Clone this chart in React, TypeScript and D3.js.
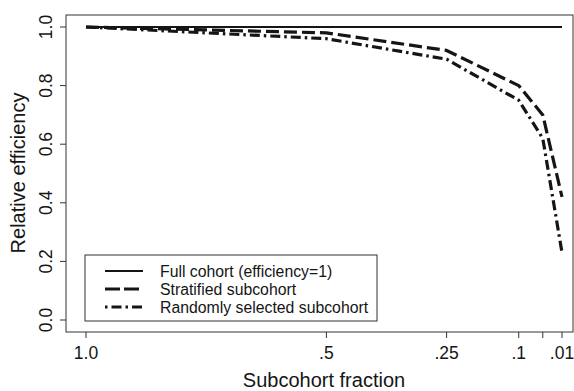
import React from "react";
import * as d3 from "d3";

const fractions = [1.0, 0.5, 0.25, 0.1, 0.05, 0.01];
const fullCohort = [1, 1, 1, 1, 1, 1];
const stratified = [1.0, 0.98, 0.92, 0.8, 0.7, 0.42];
const randomSel = [1.0, 0.96, 0.89, 0.75, 0.62, 0.23];
const xTicks = [1.0, 0.5, 0.25, 0.1, 0.05, 0.01];
const xTickLabels = ["1.0", ".5", ".25", ".1", "", ".01"];
const yTicks = [0, 0.2, 0.4, 0.6, 0.8, 1.0];
const legendLabels = ["Full cohort (efficiency=1)", "Stratified subcohort", "Randomly selected subcohort"];

const W = 574, H = 391;
const font = "'Liberation Sans', Arial, Helvetica, sans-serif";
const ink = "#151515";

export default function App() {
  const x = d3.scaleLinear().domain([1, 0.01]).range([86, 562]);
  const y = d3.scaleLinear().domain([0, 1]).range([320, 27]);
  const frame = { l: 66, t: 15, r: 573, b: 332 };
  const line = d3.line<number>().x((_, i) => x(fractions[i])).y((d) => y(d));
  const series = [
    { vals: fullCohort, dash: undefined as string | undefined, w: 2 },
    { vals: stratified, dash: "13 5", w: 3.2 },
    { vals: randomSel, dash: "10 4 2.5 4", w: 3.2 },
  ];
  const legend = { x: 85, y: 255, w: 292, h: 66 };
  return (
    <svg width={W} height={H} style={{ position: "absolute", left: 0, top: 0, background: "#fff" }}>
      <rect x={0} y={0} width={W} height={H} fill="#fff" />
      <rect x={frame.l} y={frame.t} width={frame.r - frame.l} height={frame.b - frame.t} fill="none" stroke="#333" strokeWidth={1} />
      {yTicks.map((t) => (
        <g key={"y" + t}>
          <line x1={frame.l - 6} x2={frame.l} y1={y(t)} y2={y(t)} stroke="#333" strokeWidth={1} />
          <text
            transform={`translate(${frame.l - 14},${y(t)}) rotate(-90)`}
            textAnchor="middle"
            fontFamily={font}
            fontSize={17.5}
            fill={ink}
          >
            {d3.format(".1f")(t)}
          </text>
        </g>
      ))}
      {xTicks.map((t, i) => (
        <g key={"x" + t}>
          <line x1={x(t)} x2={x(t)} y1={frame.b} y2={frame.b + 6} stroke="#333" strokeWidth={1} />
          <text x={x(t)} y={359} textAnchor="middle" fontFamily={font} fontSize={17.5} fill={ink}>
            {xTickLabels[i]}
          </text>
        </g>
      ))}
      <text x={324} y={387} textAnchor="middle" fontFamily={font} fontSize={20} fill={ink}>
        Subcohort fraction
      </text>
      <text transform={`translate(25,173) rotate(-90)`} textAnchor="middle" fontFamily={font} fontSize={20} fill={ink}>
        Relative efficiency
      </text>
      {series.map((s, i) => (
        <path key={i} d={line(s.vals) || ""} fill="none" stroke={ink} strokeWidth={s.w} strokeDasharray={s.dash} strokeLinejoin="round" />
      ))}
      <rect x={legend.x} y={legend.y} width={legend.w} height={legend.h} fill="#fff" stroke="#333" strokeWidth={1} />
      {legendLabels.map((lab, i) => {
        const ly = 271 + i * 18;
        const s = series[i];
        return (
          <g key={lab}>
            <line x1={105} x2={143} y1={ly} y2={ly} stroke={ink} strokeWidth={s.w} strokeDasharray={i === 2 ? "2.5 4 10 4" : i === 1 ? "15 4" : undefined} />
            <text x={160} y={ly + 6} fontFamily={font} fontSize={15.8} fill={ink}>
              {lab}
            </text>
          </g>
        );
      })}
    </svg>
  );
}
